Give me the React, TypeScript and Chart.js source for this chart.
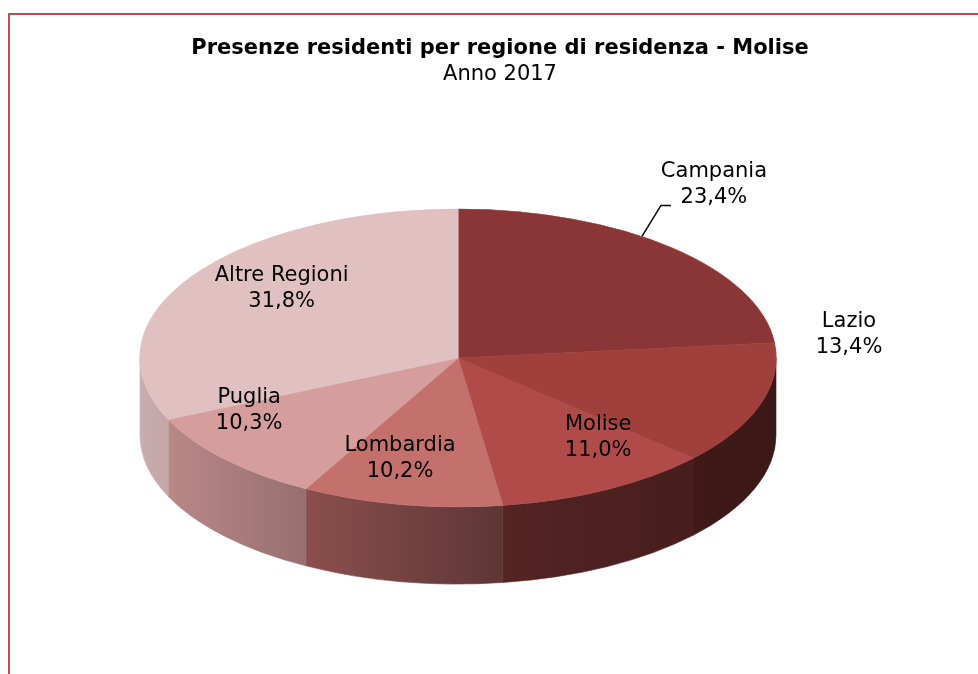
import { useEffect, useRef } from 'react';
import { Chart, registerables } from 'chart.js';

Chart.register(...registerables);

// ---- data ----
const categories = ['Campania', 'Lazio', 'Molise', 'Lombardia', 'Puglia', 'Altre Regioni'];
const shares = [23.4, 13.4, 11.0, 10.2, 10.3, 31.8];
const sliceColors = ['#8B3636', '#9F403D', '#B14B49', '#C4706D', '#D59D9C', '#E0C0C1'];
const titleText = 'Presenze residenti per regione di residenza - Molise';
const subtitleText = 'Anno 2017';

// ---- style / layout ----
const FONT = 'DejaVu Sans';
const PIE = { cx: 458, cy: 358, rx: 318, ry: 149, depth: 77 };
const LABEL_LAYOUT = [
  { f: 1, frac: 0.42, dx: 72, dy: -51.5, leader: true },
  { f: 1, frac: 0.5, dx: 89, dy: -70, leader: false },
  { f: 0.6, frac: 0.5, dx: 51, dy: 1, leader: false },
  { f: 0.6, frac: 0.5, dx: -24, dy: 12.5, leader: false },
  { f: 0.6, frac: 0.5, dx: -69, dy: -8, leader: false },
  { f: 0.6, frac: 0.5, dx: -16, dy: -21, leader: false },
];
const SHADE_STOPS: [number, number][] = [[140, 0.9], [280, 0.74], [510, 0.47], [776, 0.37]];

function hexToRgb(h: string) {
  const n = parseInt(h.slice(1), 16);
  return [(n >> 16) & 255, (n >> 8) & 255, n & 255];
}
function shadeAt(x: number) {
  if (x <= SHADE_STOPS[0][0]) return SHADE_STOPS[0][1];
  for (let i = 1; i < SHADE_STOPS.length; i++) {
    const [x1, f1] = SHADE_STOPS[i];
    const [x0, f0] = SHADE_STOPS[i - 1];
    if (x <= x1) return f0 + ((x - x0) / (x1 - x0)) * (f1 - f0);
  }
  return SHADE_STOPS[SHADE_STOPS.length - 1][1];
}
function sideColor(hex: string, x: number) {
  const [r, g, b] = hexToRgb(hex);
  const f = shadeAt(x);
  return `rgb(${Math.round(r * f)},${Math.round(g * f)},${Math.round(b * f)})`;
}
const fmt = (v: number) => v.toFixed(1).replace('.', ',') + '%';

const pie3d = {
  id: 'pie3d',
  _saved: false,
  beforeDraw(chart: any) {
    const ctx = chart.ctx;
    ctx.save();
    ctx.strokeStyle = '#C0504D';
    ctx.lineWidth = 2;
    ctx.beginPath();
    ctx.moveTo(9, chart.height + 5);
    ctx.lineTo(9, 14);
    ctx.lineTo(chart.width + 5, 14);
    ctx.stroke();
    ctx.restore();
  },
  beforeDatasetsDraw(chart: any) {
    const ctx = chart.ctx;
    const meta = chart.getDatasetMeta(0);
    const arcs = meta.data as any[];
    (pie3d as any)._saved = false;
    if (!arcs.length) return;
    const { cx, cy, rx, ry, depth } = PIE;
    arcs.forEach((arc: any, i: number) => {
      const s = Math.max(arc.startAngle, 0);
      const e = Math.min(arc.endAngle, Math.PI);
      if (e <= s) return;
      const xs = cx + rx * Math.cos(s);
      const xe = cx + rx * Math.cos(e);
      const g = ctx.createLinearGradient(xe, 0, xs, 0);
      for (let k = 0; k <= 6; k++) {
        const t = k / 6;
        g.addColorStop(t, sideColor(sliceColors[i], xe + (xs - xe) * t));
      }
      ctx.beginPath();
      ctx.ellipse(cx, cy, rx, ry, 0, s, e, false);
      ctx.lineTo(xe, cy + ry * Math.sin(e) + depth);
      ctx.ellipse(cx, cy + depth, rx, ry, 0, e, s, true);
      ctx.closePath();
      ctx.fillStyle = g;
      ctx.fill();
      ctx.strokeStyle = g;
      ctx.lineWidth = 0.6;
      ctx.stroke();
    });
    const { x, y, outerRadius } = arcs[0];
    ctx.save();
    ctx.translate(cx, cy);
    ctx.scale(rx / outerRadius, ry / outerRadius);
    ctx.translate(-x, -y);
    (pie3d as any)._saved = true;
  },
  afterDatasetsDraw(chart: any) {
    const ctx = chart.ctx;
    if ((pie3d as any)._saved) ctx.restore();
    const meta = chart.getDatasetMeta(0);
    const arcs = meta.data as any[];
    const { cx, cy, rx, ry } = PIE;
    ctx.save();
    ctx.fillStyle = '#000';
    ctx.strokeStyle = '#000';
    ctx.font = `21px "${FONT}"`;
    ctx.textAlign = 'center';
    ctx.textBaseline = 'middle';
    arcs.forEach((arc: any, i: number) => {
      const L = LABEL_LAYOUT[i];
      const a = arc.startAngle + (arc.endAngle - arc.startAngle) * L.frac;
      const px = cx + rx * L.f * Math.cos(a);
      const py = cy + ry * L.f * Math.sin(a);
      if (L.leader) {
        ctx.lineWidth = 1.5;
        ctx.beginPath();
        ctx.moveTo(px, py);
        ctx.lineTo(px + 19, py - 31);
        ctx.lineTo(px + 29, py - 31);
        ctx.stroke();
      }
      const tx = px + L.dx;
      const ty = py + L.dy;
      ctx.fillText(categories[i], tx, ty - 13);
      ctx.fillText(fmt(shares[i]), tx, ty + 13);
    });
    ctx.restore();
  },
};

export default function App() {
  const ref = useRef<HTMLCanvasElement>(null);
  useEffect(() => {
    if (!ref.current) return;
    Chart.defaults.font.family = FONT;
    const chart = new Chart(ref.current, {
      type: 'pie',
      data: {
        labels: categories,
        datasets: [
          {
            data: shares,
            backgroundColor: sliceColors,
            borderColor: sliceColors,
            borderWidth: 1,
          },
        ],
      },
      options: {
        responsive: false,
        animation: false,
        events: [],
        layout: { padding: { left: 22, right: 0, top: 36, bottom: 20 } },
        plugins: {
          legend: { display: false },
          tooltip: { enabled: false },
          title: {
            display: true,
            text: titleText,
            color: '#000',
            font: { family: FONT, size: 21, weight: 'bold', lineHeight: 1.2 },
            padding: { top: 0, bottom: 0 },
          },
          subtitle: {
            display: true,
            text: subtitleText,
            color: '#000',
            font: { family: FONT, size: 21, weight: 'normal', lineHeight: 1.2 },
            padding: { top: 1, bottom: 10 },
          },
        },
      },
      plugins: [pie3d as any],
    });
    return () => chart.destroy();
  }, []);
  return (
    <div style={{ position: 'fixed', left: 0, top: 0, width: 978, height: 674, background: '#fff' }}>
      <canvas ref={ref} width={978} height={674} style={{ display: 'block' }} />
    </div>
  );
}
